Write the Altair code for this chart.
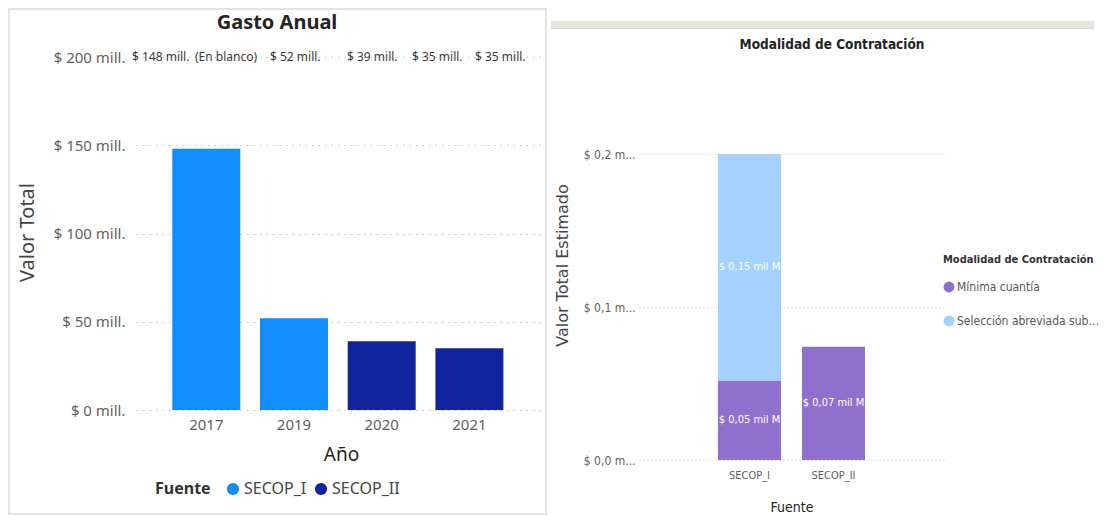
import altair as alt
import pandas as pd

# ---------------- data: left panel (Gasto Anual) ----------------
years = ["2017", "2019", "2020", "2021"]
gasto = [148, 52, 39, 35]
fuente_year = ["SECOP_I", "SECOP_I", "SECOP_II", "SECOP_II"]
fuentes = ["SECOP_I", "SECOP_II"]
fuente_colors = ["#118DFF", "#12239E"]
left_ticks = [0, 50, 100, 150, 200]
top_labels = ["$ 148 mill.", "(En blanco)", "$ 52 mill.", "$ 39 mill.", "$ 35 mill.", "$ 35 mill."]

# ---------------- data: right panel (Modalidad de Contratación) ----------------
fuente_mod = ["SECOP_I", "SECOP_I", "SECOP_II"]
modalidad = ["Mínima cuantía", "Selección abreviada subasta inversa", "Mínima cuantía"]
valor_est = [0.052, 0.148, 0.074]
modalidades = ["Mínima cuantía", "Selección abreviada subasta inversa"]
mod_colors = ["#8F70CC", "#A5D1FF"]
right_ticks = [0.0, 0.1, 0.2]

# ---------------- styles ----------------
FONT_L = "Segoe UI, Noto Sans, Open Sans, sans-serif"
FONT_R = "Liberation Sans Narrow, DejaVu Sans Condensed, Roboto, sans-serif"
top_label_x = [-4, 59, 134, 211, 276, 339]

W1, H1 = 410, 353
W2, H2 = 305, 403

one = pd.DataFrame({"k": [0]})

# ---------------- left panel ----------------
df_l = pd.DataFrame({"Año": years, "Valor": gasto, "Fuente": fuente_year})

frame = alt.Chart(one).mark_rect(fillOpacity=0, stroke="#E3E3E3", strokeWidth=2).encode(
    x=alt.value(-127), x2=alt.value(410), y=alt.value(-48), y2=alt.value(457)
)

bars_l = alt.Chart(df_l).mark_bar().encode(
    x=alt.X("Año:N", sort=years,
            scale=alt.Scale(paddingInner=0.225, paddingOuter=0.45, align=0.46),
            axis=alt.Axis(title="Año", labelAngle=0, labelFontSize=15, labelColor="#605E5C",
                          labelFont=FONT_L, labelPadding=7, ticks=False, domain=False,
                          titleFont=FONT_L, titleFontSize=19, titleColor="#252423",
                          titleFontWeight="normal", titlePadding=13)),
    y=alt.Y("Valor:Q", scale=alt.Scale(domain=[0, 200], nice=False),
            axis=alt.Axis(values=left_ticks, labelExpr="'$ ' + datum.value + ' mill.'",
                          labelFont=FONT_L, labelFontSize=15, labelColor="#605E5C",
                          labelPadding=11, ticks=False, domain=False,
                          grid=True, gridDash=[1.5, 5], gridColor="#BDBDBD", gridWidth=1,
                          title="Valor Total", titleFont=FONT_L, titleFontSize=20,
                          titleFontWeight="normal", titleColor="#444444",
                          titleX=-109, titleY=175, titleBaseline="middle", titleAlign="center")),
    color=alt.Color("Fuente:N", scale=alt.Scale(domain=fuentes, range=fuente_colors),
                    legend=alt.Legend(orient="none", legendX=19, legendY=424,
                                      direction="horizontal", title="Fuente",
                                      titleOrient="left", titleFont=FONT_L, titleFontSize=16,
                                      titleFontWeight="bold", titleColor="#333333",
                                      labelFont=FONT_L, labelFontSize=16, labelColor="#444444",
                                      symbolType="circle", symbolSize=150, symbolStrokeWidth=0,
                                      columnPadding=6, labelOffset=3, titlePadding=14)),
)

title_l = alt.Chart(pd.DataFrame({"t": ["Gasto Anual"]})).mark_text(
    font=FONT_L, fontSize=20, fontWeight="bold", color="#252423", align="center", baseline="middle"
).encode(x=alt.value(141), y=alt.value(-34), text="t:N")

top_layers = []
for lab, px in zip(top_labels, top_label_x):
    top_layers.append(
        alt.Chart(pd.DataFrame({"t": [lab]})).mark_text(
            font=FONT_L, fontSize=12, color="#3A3A3A", align="left", baseline="middle"
        ).encode(x=alt.value(px), y=alt.value(0), text="t:N")
    )

left = alt.layer(frame, bars_l, title_l, *top_layers).properties(width=W1, height=H1)

# ---------------- right panel ----------------
df_r = pd.DataFrame({"Fuente": fuente_mod, "Modalidad": modalidad, "Valor": valor_est})
df_r["orden"] = df_r["Modalidad"].map({m: i for i, m in enumerate(modalidades)})

band = alt.Chart(one).mark_rect(fill="#E7E5DD").encode(
    x=alt.value(-88), x2=alt.value(455), y=alt.value(-36), y2=alt.value(-29)
)
band_shadow = alt.Chart(one).mark_rect(fill="#DADADA").encode(
    x=alt.value(-88), x2=alt.value(455), y=alt.value(-29), y2=alt.value(-28)
)

bars_r = alt.Chart(df_r).mark_bar().encode(
    x=alt.X("Fuente:N", sort=fuentes,
            scale=alt.Scale(paddingInner=0.25, paddingOuter=0.94),
            axis=alt.Axis(title="Fuente", labelAngle=0, labelFont=FONT_R, labelFontSize=11,
                          labelColor="#605E5C", labelPadding=9, ticks=False, domain=False,
                          titleFont=FONT_R, titleFontSize=14, titleColor="#252423",
                          titleFontWeight="normal", titlePadding=20)),
    y=alt.Y("Valor:Q", stack="zero", scale=alt.Scale(domain=[0, 0.2634], nice=False),
            axis=alt.Axis(values=right_ticks,
                          labelExpr="'$ ' + replace(format(datum.value, '.1f'), '.', ',') + ' m...'",
                          labelFont=FONT_R, labelFontSize=12, labelColor="#605E5C",
                          labelPadding=4, ticks=False, domain=False,
                          grid=True, gridDash=[1, 3], gridColor="#C8C8C8", gridWidth=1,
                          title="Valor Total Estimado", titleFont="DejaVu Sans", titleFontSize=16,
                          titleFontWeight="normal", titleColor="#444444",
                          titleX=-77, titleY=208, titleBaseline="middle", titleAlign="center")),
    color=alt.Color("Modalidad:N", scale=alt.Scale(domain=modalidades, range=mod_colors),
                    legend=alt.Legend(orient="none", legendX=304, legendY=197,
                                      title="Modalidad de Contratación", titleFont=FONT_R,
                                      titleFontSize=11, titleFontWeight="bold", titleColor="#333333",
                                      titleLimit=170,
                                      labelFont=FONT_R, labelFontSize=12, labelColor="#555555",
                                      symbolType="circle", symbolSize=120, symbolStrokeWidth=0,
                                      labelLimit=143, rowPadding=22, titlePadding=16, labelOffset=2)),
    order=alt.Order("orden:Q", sort="ascending"),
)

labels_r = alt.Chart(df_r).transform_stack(
    stack="Valor", groupby=["Fuente"], sort=[alt.SortField("orden", order="ascending")], as_=["v0", "v1"]
).transform_calculate(
    mid="(datum.v0 + datum.v1) / 2",
    lab="'$ ' + replace(format(datum.Valor, '.2f'), '.', ',') + ' mil M'",
).mark_text(font=FONT_R, fontSize=11, color="white", baseline="middle").encode(
    x=alt.X("Fuente:N", sort=fuentes), y="mid:Q", text="lab:N"
)

title_r = alt.Chart(pd.DataFrame({"t": ["Modalidad de Contratación"]})).mark_text(
    font=FONT_R, fontSize=13.5, fontWeight="bold", color="#252423", align="center", baseline="middle"
).encode(x=alt.value(193), y=alt.value(-12), text="t:N")

right = alt.layer(band, band_shadow, bars_r, labels_r, title_r).properties(width=W2, height=H2)

chart = (
    alt.hconcat(left, right, spacing=4)
    .resolve_scale(color="independent")
    .resolve_legend(color="independent")
    .properties(padding=0)
    .configure_view(stroke=None)
)

chart.save("out.html", embed_options={"renderer": "svg", "actions": False})
